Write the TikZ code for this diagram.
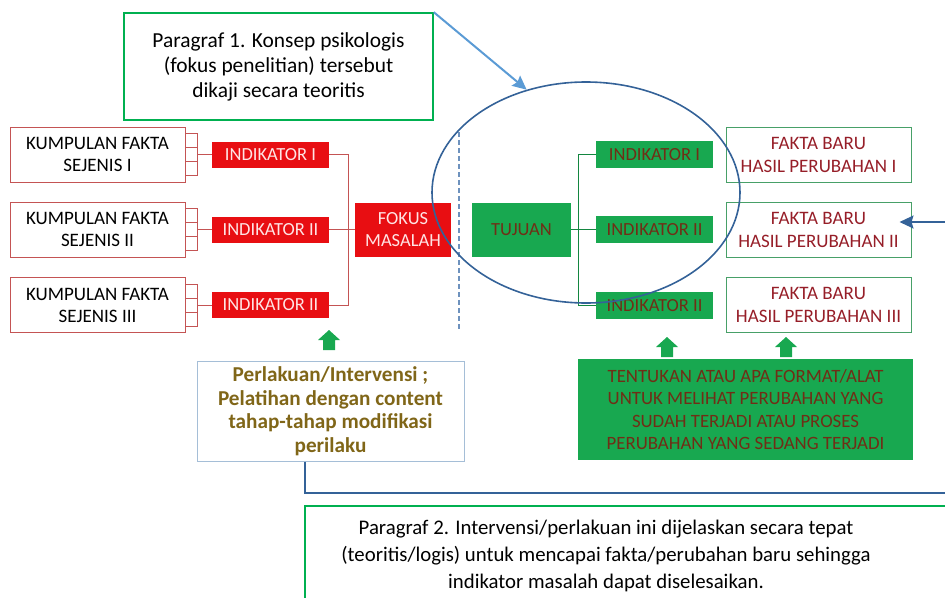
\documentclass[tikz,border=0pt]{standalone}
\usepackage{fontspec}
\setmainfont{Carlito}
\usetikzlibrary{positioning, arrows.meta, shapes.geometric, calc}

\definecolor{boxred}{RGB}{232,14,18}
\definecolor{edgered}{RGB}{196,84,84}
\definecolor{boxgreen}{RGB}{24,168,80}
\definecolor{edgegreen}{RGB}{0,176,80}
\definecolor{factgreen}{RGB}{72,160,104}
\definecolor{darkbrown}{RGB}{112,46,22}
\definecolor{darkred}{RGB}{150,30,40}
\definecolor{olive}{RGB}{128,102,24}
\definecolor{ovalblue}{RGB}{52,98,152}
\definecolor{lightblue}{RGB}{91,155,213}
\definecolor{dashblue}{RGB}{110,146,190}
\definecolor{paleblue}{RGB}{165,190,215}
\definecolor{pinkwhite}{RGB}{255,228,228}

\begin{document}
\begin{tikzpicture}[
  x=1pt, y=-1pt,
  >=Stealth,
% 1. White fact boxes on the left, thin red edge
  fact_box/.style={
    draw=edgered,
    line width=1pt,
    minimum width=175,
    minimum height=55,
    inner sep=0pt,
    align=center,
    font=\fontsize{19}{22}\selectfont
  },
% 2. Solid red and green indicator boxes
  red_box/.style={
    fill=boxred,
    text=pinkwhite,
    inner sep=0pt,
    align=center,
    font=\fontsize{18.5}{22}\selectfont
  },
  green_box/.style={
    fill=boxgreen,
    text=darkbrown,
    inner sep=0pt,
    align=center,
    font=\fontsize{18.5}{22}\selectfont
  },
% 3. New facts on the right, green edge
  new_box/.style={
    draw=factgreen,
    line width=1pt,
    text=darkred,
    minimum width=185,
    minimum height=55,
    inner sep=0pt,
    align=center,
    font=\fontsize{19}{23}\selectfont
  },
% 4. Notes with a green frame
  note_box/.style={
    draw=edgegreen,
    line width=1.6pt,
    align=center,
    font=\fontsize{21.4}{25}\selectfont
  },
  red_link/.style={
    draw=edgered,
    line width=1pt
  },
  green_link/.style={
    draw=boxgreen!80!black,
    line width=1pt
  },
  up_arrow/.style={
    fill=boxgreen
  },
  oval/.style={
    ellipse,
    draw=ovalblue,
    line width=1.6pt,
    minimum width=308,
    minimum height=221
  },
  big_tip/.style={
    >={Stealth[length=14pt,width=13pt,inset=2pt]}
  }
]

  \useasboundingbox (0,0) rectangle (945,597);

  % Note on top
  \node[note_box, minimum width=309, minimum height=107] (p1) at (278.5,66.5)
    {Paragraf 1. Konsep psikologis\\(fokus penelitian) tersebut\\dikaji secara teoritis};

  % Left side: facts -> indicators -> focus
  \node[fact_box] (k1) at (97.5,154.5) {KUMPULAN FAKTA\\SEJENIS I};
  \node[fact_box] (k2) at (97.5,229.5) {KUMPULAN FAKTA\\SEJENIS II};
  \node[fact_box] (k3) at (97.5,305) {KUMPULAN FAKTA\\SEJENIS III};

  \foreach \k in {1,2,3}
    \foreach \j in {0,1,2}
      \draw[red_link] ($(k\k.east)+(0,-21+14*\j)$) rectangle ++(12,14);

  \node[red_box, minimum width=117, minimum height=26] (ri1) at (270.5,154.5) {INDIKATOR I};
  \node[red_box, minimum width=117, minimum height=26] (ri2) at (270.5,229.5) {INDIKATOR II};
  \node[red_box, minimum width=117, minimum height=26] (ri3) at (270.5,305) {INDIKATOR II};

  \node[red_box, minimum width=96, minimum height=54] (fok) at (403,229.5) {FOKUS\\MASALAH};

  \path[red_link]
  (k1) edge[shorten <=12] (ri1)
  (k2) edge[shorten <=12] (ri2)
  (k3) edge[shorten <=12] (ri3);

  \draw[red_link] (ri1.east) -- ++(19,0) |- (fok.west);
  \draw[red_link] (ri3.east) -- ++(19,0) |- (fok.west);
  \draw[red_link] (ri2.east) -- (fok.west);

  % Border between problem and goal
  \draw[dashblue, line width=2pt, dash pattern=on 5pt off 3pt] (459,132) -- (459,330);

  % Right side: goal -> indicators -> new facts
  \node[green_box, minimum width=99, minimum height=54] (tuj) at (521.5,229.5) {TUJUAN};

  \node[green_box, minimum width=117, minimum height=27] (gi1) at (654.5,154.5) {INDIKATOR I};
  \node[green_box, minimum width=117, minimum height=27] (gi2) at (654.5,229.5) {INDIKATOR II};
  \node[green_box, minimum width=117, minimum height=27] (gi3) at (654.5,305.5) {INDIKATOR II};

  \draw[green_link] (tuj.east) -- ++(7,0) |- (gi1.west);
  \draw[green_link] (tuj.east) -- ++(7,0) |- (gi3.west);
  \draw[green_link] (tuj.east) -- (gi2.west);

  \node[new_box] (f1) at (818.5,154.5) {FAKTA BARU\\HASIL PERUBAHAN I};
  \node[new_box] (f2) at (818.5,229.5) {FAKTA BARU\\HASIL PERUBAHAN II};
  \node[new_box] (f3) at (818.5,305) {FAKTA BARU\\HASIL PERUBAHAN III};

  % Circled part and arrows onto it
  \node[oval] (ov) at (586,192.5) {};

  \draw[->, big_tip, lightblue, line width=2pt] (p1.north east) -- (ov.120);

  \coordinate (rin) at (946,222);
  \draw[->, big_tip, ovalblue, line width=2pt, shorten >=-12pt] (rin) -- (rin -| f2.east);

  % Green block arrows pointing up
  \foreach \ax/\ay in {329/330, 667/337, 786/337}
    \fill[up_arrow] (\ax-6,\ay+20) -- (\ax-6,\ay+10) -- (\ax-11,\ay+10) -- (\ax,\ay)
      -- (\ax+11,\ay+10) -- (\ax+6,\ay+10) -- (\ax+6,\ay+20) -- cycle;

  % Bottom boxes
  \node[draw=paleblue, line width=1pt, text=olive, minimum width=267, minimum height=100,
    align=center, font=\bfseries\fontsize{21.2}{23.5}\selectfont] (per) at (330.5,411)
    {Perlakuan/Intervensi ;\\Pelatihan dengan content\\tahap-tahap modifikasi\\perilaku};

  \node[green_box, minimum width=335, minimum height=101,
    font=\fontsize{18.8}{22.3}\selectfont] (ten) at (745.5,409.5)
    {TENTUKAN ATAU APA FORMAT/ALAT\\UNTUK MELIHAT PERUBAHAN YANG\\SUDAH TERJADI ATAU PROSES\\PERUBAHAN YANG SEDANG TERJADI};

  \coordinate (rout) at (946,493);
  \draw[ovalblue, line width=2pt] ([xshift=-25.5]per.south) |- (rout);

  \draw[edgegreen, line width=1.6pt] (305,600) |- (950,506);
  \node[align=center, font=\fontsize{20.8}{27}\selectfont] (p2) at (606,556)
    {Paragraf 2. Intervensi/perlakuan ini dijelaskan secara tepat\\(teoritis/logis) untuk mencapai fakta/perubahan baru sehingga\\indikator masalah dapat diselesaikan.};

\end{tikzpicture}
\end{document}
